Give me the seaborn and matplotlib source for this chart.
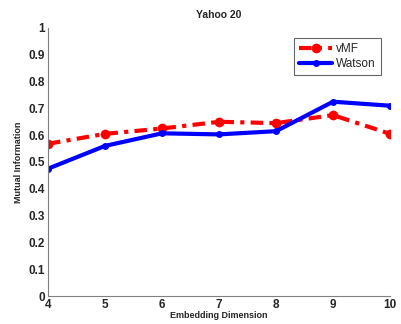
import pandas as pd
import seaborn as sns
import matplotlib.pyplot as plt

dims = [4, 5, 6, 7, 8, 9, 10]
vmf = [0.568, 0.605, 0.625, 0.650, 0.645, 0.675, 0.605]
watson = [0.475, 0.560, 0.607, 0.603, 0.615, 0.725, 0.710]

df = pd.DataFrame({'dim': dims, 'vMF': vmf, 'Watson': watson})

sns.set_style('white')
plt.rcParams['font.family'] = ['Liberation Sans', 'DejaVu Sans']

fig = plt.figure(figsize=(4.01, 3.24), dpi=100)
ax = fig.add_axes([0.1197, 0.0864, 0.853, 0.8272])

sns.lineplot(data=df, x='dim', y='vMF', ax=ax, color='#ff0000', lw=3,
             linestyle=(0, (3, 1.5, 1, 1.5)), marker='o', markersize=7,
             markeredgewidth=0, label='vMF')
sns.lineplot(data=df, x='dim', y='Watson', ax=ax, color='#0000ff', lw=3,
             linestyle='-', marker='o', markersize=5, markeredgewidth=0, label='Watson')

ax.set_xlim(4, 10)
ax.set_ylim(0, 1)
ax.set_xticks(dims)
ax.set_yticks([i / 10 for i in range(11)])
ax.set_yticklabels(['0', '0.1', '0.2', '0.3', '0.4', '0.5', '0.6', '0.7', '0.8', '0.9', '1'])
ax.tick_params(axis='both', labelsize=8.5, direction='in', length=3, width=0.8, pad=2)
for lab in ax.get_xticklabels() + ax.get_yticklabels():
    lab.set_fontweight('bold')

ax.set_title('Yahoo 20', fontsize=7.5, fontweight='bold', pad=7)
ax.set_xlabel('Embedding Dimension', fontsize=6.5, fontweight='bold', labelpad=0)
ax.set_ylabel('Mutual Information', fontsize=6.5, fontweight='bold', labelpad=4)

sns.despine(ax=ax)
for s in ['left', 'bottom']:
    ax.spines[s].set_color('#808080')
    ax.spines[s].set_linewidth(0.8)

leg = ax.legend(loc='upper right', bbox_to_anchor=(0.99, 0.985), fontsize=8.5,
                frameon=True, fancybox=False, handlelength=2.8,
                borderpad=0.45, labelspacing=0.25, handletextpad=0.3)
leg.get_frame().set_edgecolor('#404040')
leg.get_frame().set_linewidth(0.8)

plt.savefig('out.png', dpi=100)
